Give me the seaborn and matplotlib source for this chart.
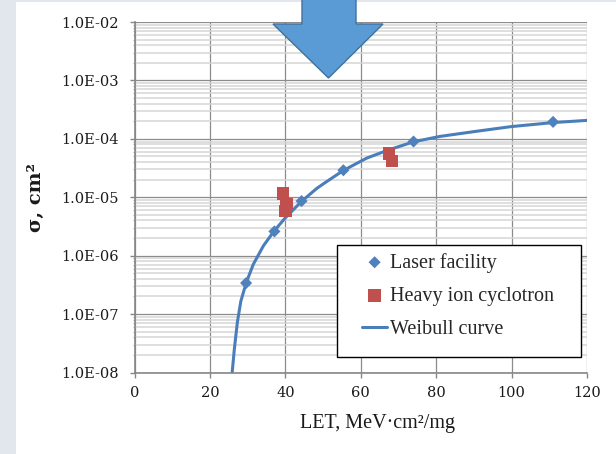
import pandas as pd
import matplotlib
matplotlib.use('Agg')
import matplotlib.pyplot as plt
import seaborn as sns
from matplotlib.patches import Polygon, Rectangle
from matplotlib.ticker import LogLocator, FuncFormatter, MultipleLocator

sns.set_theme(style="white")

# Данные: лазерная установка
laser_let = [29.6, 37.1, 44.3, 55.4, 74.0, 111.0]
laser_sigma = [3.4e-7, 2.6e-6, 8.6e-6, 2.9e-5, 9.0e-5, 1.95e-4]

# Данные: циклотрон тяжёлых ионов
ion_let = [39.4, 40.3, 40.0, 67.5, 68.3]
ion_sigma = [1.15e-5, 7.6e-6, 5.8e-6, 5.6e-5, 4.2e-5]

# Кривая Вейбулла (точки)
curve_let = [25.9, 26.5, 27.3, 28.2, 29.6, 31.5, 34.2, 37.0, 39.9, 44.3,
             48.3, 50.1, 55.4, 61.6, 66.9, 74.0, 81.0, 90.8, 99.9, 111.1, 120.0]
curve_sigma = [1.0e-8, 2.6e-8, 7.4e-8, 1.66e-7, 3.4e-7, 7.1e-7, 1.48e-6, 2.63e-6,
               4.37e-6, 8.5e-6, 1.41e-5, 1.70e-5, 2.88e-5, 4.68e-5, 6.3e-5, 8.9e-5,
               1.10e-4, 1.35e-4, 1.62e-4, 1.90e-4, 2.07e-4]

laser = pd.DataFrame({'LET': laser_let, 'sigma': laser_sigma})
ion = pd.DataFrame({'LET': ion_let, 'sigma': ion_sigma})
curve = pd.DataFrame({'LET': curve_let, 'sigma': curve_sigma})

W, H = 616, 454
fig = plt.figure(figsize=(W / 100, H / 100), dpi=100, facecolor='#e2e7ed')
fig.patches.append(Rectangle((16 / W, 0), 1 - 16 / W, 452 / H, transform=fig.transFigure,
                             facecolor='white', edgecolor='none', zorder=-1))

ax = fig.add_axes([134.5 / W, (H - 372.5) / H, 452.5 / W, 350.5 / H])
ax.set_yscale('log')

sns.lineplot(data=curve, x='LET', y='sigma', ax=ax, color='#4a7ebb', linewidth=2.2,
             estimator=None, sort=False, label='Weibull curve', zorder=2)
sns.scatterplot(data=laser, x='LET', y='sigma', ax=ax, marker='D', s=38, color='#4f81bd',
                edgecolor='none', label='Laser facility', zorder=3)
sns.scatterplot(data=ion, x='LET', y='sigma', ax=ax, marker='s', s=80, color='#c0504d',
                edgecolor='none', label='Heavy ion cyclotron', zorder=3)

ax.set_xlim(0, 120)
ax.set_ylim(1e-8, 1e-2)
ax.xaxis.set_major_locator(MultipleLocator(20))
ax.yaxis.set_major_locator(LogLocator(base=10, numticks=10))
ax.yaxis.set_minor_locator(LogLocator(base=10, subs=range(2, 10), numticks=20))
ax.yaxis.set_minor_formatter(FuncFormatter(lambda v, p: ''))
ax.yaxis.set_major_formatter(FuncFormatter(lambda v, p: f'{v:.1E}'))

ax.grid(True, which='major', axis='both', color='#8c8c8c', linewidth=0.9)
ax.grid(True, which='minor', axis='y', color='#d6d6d6', linewidth=1.1)
ax.set_axisbelow(True)

for s in ['top', 'right']:
    ax.spines[s].set_visible(False)
for s in ['left', 'bottom']:
    ax.spines[s].set_color('#868686')
    ax.spines[s].set_linewidth(1.2)

ax.tick_params(axis='both', which='major', direction='out', length=3.5, width=1,
               color='#868686', bottom=True, left=True, labelsize=10.5,
               labelcolor='#1a1a1a', labelfontfamily='DejaVu Serif')
ax.tick_params(axis='y', which='minor', direction='out', length=1.5, width=0.8,
               color='#b0b0b0', left=True)
ax.tick_params(axis='y', which='major', pad=8)
ax.tick_params(axis='x', which='major', pad=6)

ax.set_xlabel('LET, MeV·cm²/mg', fontfamily='Liberation Serif', fontsize=14.5, color='#1a1a1a')
ax.xaxis.set_label_coords(0.536, -0.118)
ax.set_ylabel('σ, cm²', fontfamily='DejaVu Serif', fontsize=14, fontweight='bold', color='#1a1a1a')
ax.yaxis.set_label_coords(-0.198, 0.498)

# Рамка легенды
ax.add_patch(Rectangle((0.4475, 0.0442), 0.5392, 0.3196, transform=ax.transAxes,
                       facecolor='white', edgecolor='black', linewidth=1.0, zorder=4))
handles, labels = ax.get_legend_handles_labels()
order = [labels.index(n) for n in ['Laser facility', 'Heavy ion cyclotron', 'Weibull curve']]
leg = ax.legend([handles[i] for i in order], [labels[i] for i in order],
                loc='upper left', bbox_to_anchor=(0.5028, 0.342), frameon=False,
                borderpad=0, borderaxespad=0, handlelength=1.25, handletextpad=0.15,
                labelspacing=0.7, prop={'family': 'Liberation Serif', 'size': 14.5},
                scatterpoints=1)
leg.set_zorder(5)

# Синяя стрелка сверху
arrow_px = [(302, -5), (356, -5), (356, 24), (383, 24), (328.5, 78), (273, 24), (302, 24)]
fig.patches.append(Polygon([(x / W, 1 - y / H) for x, y in arrow_px], closed=True,
                           transform=fig.transFigure, facecolor='#5b9bd5',
                           edgecolor='#41719c', linewidth=1.0, zorder=10))

fig.savefig('out.png', dpi=100, facecolor=fig.get_facecolor())
